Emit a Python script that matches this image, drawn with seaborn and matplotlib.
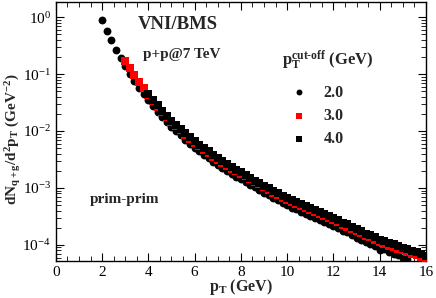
import matplotlib
matplotlib.use("Agg")
import matplotlib.pyplot as plt
import seaborn as sns

# pT grid (GeV), 2.0 .. 16.0 in steps of 0.2
pt = [2.0, 2.2, 2.4, 2.6, 2.8, 3.0, 3.2, 3.4, 3.6, 3.8,
      4.0, 4.2, 4.4, 4.6, 4.8, 5.0, 5.2, 5.4, 5.6, 5.8,
      6.0, 6.2, 6.4, 6.6, 6.8, 7.0, 7.2, 7.4, 7.6, 7.8,
      8.0, 8.2, 8.4, 8.6, 8.8, 9.0, 9.2, 9.4, 9.6, 9.8,
      10.0, 10.2, 10.4, 10.6, 10.8, 11.0, 11.2, 11.4, 11.6, 11.8,
      12.0, 12.2, 12.4, 12.6, 12.8, 13.0, 13.2, 13.4, 13.6, 13.8,
      14.0, 14.2, 14.4, 14.6, 14.8, 15.0, 15.2, 15.4, 15.6, 15.8, 16.0]

# cut-off 2.0 GeV (pT 2.0 .. 15.2)
cut20 = [8.9e-1, 5.7e-1, 4.0e-1, 2.7e-1, 1.9e-1, 1.38e-1, 1.0e-1, 7.6e-2, 5.8e-2, 4.5e-2,
         3.5e-2, 2.75e-2, 2.18e-2, 1.76e-2, 1.43e-2, 1.16e-2, 9.9e-3, 8.4e-3, 7.0e-3, 5.9e-3,
         5.05e-3, 4.4e-3, 3.8e-3, 3.3e-3, 2.88e-3, 2.5e-3, 2.23e-3, 1.98e-3, 1.76e-3, 1.58e-3,
         1.43e-3, 1.28e-3, 1.14e-3, 1.02e-3, 9.3e-4, 8.3e-4, 7.5e-4, 6.7e-4, 6.1e-4, 5.45e-4,
         4.95e-4, 4.5e-4, 4.2e-4, 3.85e-4, 3.55e-4, 3.2e-4, 3.0e-4, 2.75e-4, 2.55e-4, 2.3e-4,
         2.15e-4, 1.95e-4, 1.78e-4, 1.65e-4, 1.48e-4, 1.32e-4, 1.2e-4, 1.12e-4, 1.05e-4, 9.6e-5,
         8.0e-5, 8.4e-5, 7.4e-5, 7.0e-5, 6.6e-5, 6.0e-5, 5.7e-5]

# cut-off 3.0 GeV (pT 3.0 .. 16.0)
cut30 = [1.70e-1, 1.27e-1, 9.6e-2, 7.2e-2, 5.7e-2,
         4.3e-2, 3.35e-2, 2.66e-2, 2.15e-2, 1.75e-2, 1.42e-2, 1.21e-2, 1.03e-2, 8.6e-3, 7.3e-3,
         6.2e-3, 5.4e-3, 4.7e-3, 4.1e-3, 3.56e-3, 3.1e-3, 2.76e-3, 2.46e-3, 2.19e-3, 1.96e-3,
         1.78e-3, 1.59e-3, 1.41e-3, 1.26e-3, 1.15e-3, 1.03e-3, 9.3e-4, 8.3e-4, 7.6e-4, 6.75e-4,
         6.15e-4, 5.6e-4, 5.2e-4, 4.75e-4, 4.45e-4, 4.05e-4, 3.77e-4, 3.45e-4, 3.2e-4, 2.92e-4,
         2.72e-4, 2.48e-4, 2.26e-4, 2.1e-4, 1.92e-4, 1.75e-4, 1.6e-4, 1.45e-4, 1.35e-4, 1.23e-4,
         1.12e-4, 1.04e-4, 9.7e-5, 9.2e-5, 8.6e-5, 8.0e-5, 7.5e-5, 7.0e-5, 6.6e-5, 6.2e-5, 5.8e-5]

# cut-off 4.0 GeV (pT 4.0 .. 16.0)
cut40 = [4.47e-2, 3.55e-2, 2.82e-2, 2.29e-2, 1.86e-2, 1.51e-2, 1.29e-2, 1.10e-2, 9.12e-3, 7.76e-3,
         6.61e-3, 5.75e-3, 5.01e-3, 4.37e-3, 3.80e-3, 3.31e-3, 2.95e-3, 2.63e-3, 2.34e-3, 2.09e-3,
         1.91e-3, 1.70e-3, 1.51e-3, 1.35e-3, 1.23e-3, 1.10e-3, 1.00e-3, 8.91e-4, 8.13e-4, 7.24e-4,
         6.61e-4, 6.03e-4, 5.62e-4, 5.13e-4, 4.79e-4, 4.37e-4, 4.07e-4, 3.72e-4, 3.47e-4, 3.16e-4,
         2.95e-4, 2.69e-4, 2.45e-4, 2.29e-4, 2.09e-4, 1.91e-4, 1.74e-4, 1.58e-4, 1.48e-4, 1.35e-4,
         1.23e-4, 1.15e-4, 1.07e-4, 1.02e-4, 9.55e-5, 8.91e-5, 8.32e-5, 7.76e-5, 7.41e-5, 6.92e-5,
         6.46e-5]

labels = ["2.0", "3.0", "4.0"]

sns.set_style("ticks")
plt.rcParams["font.family"] = ["Liberation Serif", "DejaVu Serif"]
plt.rcParams["mathtext.fontset"] = "custom"
plt.rcParams["mathtext.rm"] = "Liberation Serif"
plt.rcParams["mathtext.bf"] = "Liberation Serif:bold"
plt.rcParams["mathtext.it"] = "Liberation Serif:italic"

fig = plt.figure(figsize=(4.36, 2.98), dpi=100)
ax = fig.add_axes([0.128, 0.124, 0.849, 0.870])

sns.scatterplot(x=pt[:len(cut20)], y=cut20, ax=ax, marker="o", color="black",
                s=32, linewidth=0, label=labels[0], zorder=3)
sns.scatterplot(x=pt[5:5 + len(cut30)], y=cut30, ax=ax, marker="s", color="red",
                s=28, linewidth=0, label=labels[1], zorder=4)
sns.scatterplot(x=pt[10:10 + len(cut40)], y=cut40, ax=ax, marker="s", color="black",
                s=28, linewidth=0, label=labels[2], zorder=5)

ax.set_yscale("log")
ax.set_xlim(0, 16)
ax.set_ylim(5.2e-5, 1.86)
ax.set_xticks(range(0, 17, 2))
ax.set_xticks([i * 0.5 for i in range(33)], minor=True)
ax.tick_params(which="both", direction="in", top=True, right=True, labelsize=11, colors="black")
ax.tick_params(which="major", length=6, width=0.8)
ax.tick_params(which="minor", length=3.5, width=0.6)
for sp in ax.spines.values():
    sp.set_linewidth(1.0)
    sp.set_color("black")

ax.set_xlabel(r"$\mathbf{p_T}$ (GeV)", fontsize=11.5, fontweight="bold")
ax.xaxis.set_label_coords(0.5, -0.063, transform=ax.transAxes)
ax.set_ylabel(r"$\mathbf{dN_{q+g}/d^2p_T}$ (GeV$^{\mathbf{-2}}$)", fontsize=11,
              fontweight="bold")
ax.yaxis.set_label_coords(-0.088, 0.47, transform=ax.transAxes)

ax.text(0.222, 0.895, "VNI/BMS", transform=ax.transAxes, fontsize=13.5, fontweight="bold")
ax.text(0.235, 0.785, "p+p@7 TeV", transform=ax.transAxes, fontsize=11, fontweight="bold")
ax.text(0.093, 0.225, "prim-prim", transform=ax.transAxes, fontsize=11, fontweight="bold")
ax.text(0.61, 0.755, r"$\mathbf{p_T^{cut\text{-}off}}$ (GeV)", transform=ax.transAxes,
        fontsize=12, fontweight="bold")

leg = ax.legend(loc="upper left", bbox_to_anchor=(0.615, 0.705), frameon=False,
                fontsize=11.5, handletextpad=0.9, labelspacing=0.45,
                markerscale=0.75, handlelength=1.2, borderaxespad=0)
for t in leg.get_texts():
    t.set_fontweight("bold")

fig.savefig("out.png", dpi=100)
